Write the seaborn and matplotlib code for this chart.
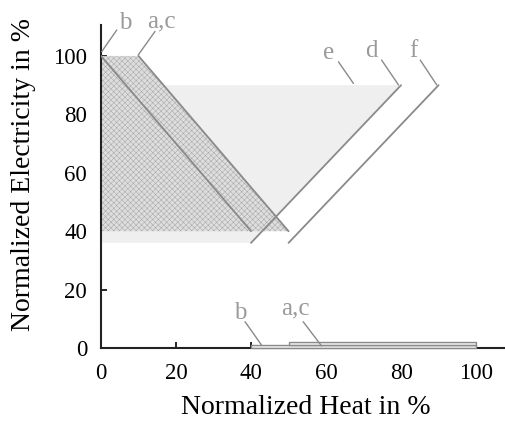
import matplotlib
matplotlib.use("Agg")
import matplotlib.pyplot as plt
import seaborn as sns
import pandas as pd

# ---- data ----
# operating-region polygons
hatch_heat = [0, 10, 50, 0]
hatch_elec = [100, 100, 40, 40]
region_e_heat = [0, 80, 40, 0]
region_e_elec = [90, 90, 36, 36]

# boundary lines
line_b_heat = [0, 40]
line_b_elec = [100, 40]
line_ac_heat = [10, 50]
line_ac_elec = [100, 40]
line_d_heat = [40, 80]
line_d_elec = [36, 90]
line_f_heat = [50, 90]
line_f_elec = [36, 90]

# heat-only strips near the x axis
strip_labels = ["b", "a,c"]
strip_start = [40, 50]
strip_end = [100, 100]
strip_bottom = [0.15, 1.15]
strip_height = [1.0, 1.0]

x_ticks = [0, 20, 40, 60, 80, 100]
y_ticks = [0, 20, 40, 60, 80, 100]

# labels with leader lines
annot_text = ["b", "a,c", "e", "d", "f", "b", "a,c"]
annot_tx = [6.4, 16.0, 60.6, 72.2, 83.3, 37.1, 51.9]
annot_ty = [111.3, 111.8, 101.0, 101.6, 101.6, 12.0, 13.6]
leader_x0 = [0.2, 9.9, 67.3, 79.3, 89.5, 42.8, 58.8]
leader_y0 = [101.5, 100.3, 90.6, 90.1, 90.1, 1.0, 0.7]
leader_x1 = [4.2, 14.4, 63.3, 74.8, 85.1, 38.4, 53.9]
leader_y1 = [108.9, 108.4, 98.0, 98.6, 98.6, 9.0, 9.0]

sns.set_theme(style="white")
plt.rcParams["font.family"] = ["Liberation Serif", "DejaVu Serif"]
plt.rcParams["hatch.linewidth"] = 0.35
plt.rcParams["hatch.color"] = "#a6a6a6"

fig = plt.figure(figsize=(5.06, 4.21), dpi=100)
ax = fig.add_axes([0.1996, 0.1734, 0.7984, 0.7672])

line_col = "#8a8a8a"
text_col = "#9a9a9a"

ax.fill(region_e_heat, region_e_elec, facecolor="#efefef", edgecolor="none", zorder=1)
ax.fill(hatch_heat, hatch_elec, facecolor="#dedede", edgecolor="#a6a6a6",
        hatch="xxxxxx", linewidth=0, zorder=2)

lines = pd.DataFrame({
    "heat": line_b_heat + line_ac_heat + line_d_heat + line_f_heat,
    "elec": line_b_elec + line_ac_elec + line_d_elec + line_f_elec,
    "name": ["b"] * 2 + ["ac"] * 2 + ["d"] * 2 + ["f"] * 2,
})
sns.lineplot(data=lines, x="heat", y="elec", units="name", estimator=None,
             sort=False, color=line_col, linewidth=1.3, ax=ax, zorder=3)

for s0, s1, b, h in zip(strip_start, strip_end, strip_bottom, strip_height):
    ax.add_patch(plt.Rectangle((s0, b), s1 - s0, h, facecolor="#eeeeee",
                               edgecolor=line_col, linewidth=1.0, zorder=3,
                               clip_on=False))

for t, tx, ty, x0, y0, x1, y1 in zip(annot_text, annot_tx, annot_ty,
                                     leader_x0, leader_y0, leader_x1, leader_y1):
    ax.plot([x0, x1], [y0, y1], color=line_col, linewidth=1.0, clip_on=False, zorder=4)
    ax.text(tx, ty, t, color=text_col, fontsize=18, ha="center", va="center",
            clip_on=False, zorder=4)

ax.set_xlim(0, 107.7)
ax.set_ylim(0, 110.6)
ax.set_xticks(x_ticks)
ax.set_yticks(y_ticks)
ax.tick_params(direction="in", length=4, width=1.2, colors="black",
               labelsize=16.5, left=True, bottom=True)
ax.tick_params(axis="x", pad=11)
ax.tick_params(axis="y", pad=10)
for side in ["top", "right"]:
    ax.spines[side].set_visible(False)
for side in ["left", "bottom"]:
    ax.spines[side].set_color("#222222")
    ax.spines[side].set_linewidth(1.5)
ax.set_xlabel("Normalized Heat in %", fontsize=20, color="black")
ax.set_ylabel("Normalized Electricity in %", fontsize=20, color="black")
ax.xaxis.set_label_coords(0.507, -0.145)
ax.yaxis.set_label_coords(-0.16, 0.536)
ax.grid(False)

fig.savefig("out.png", dpi=100)
